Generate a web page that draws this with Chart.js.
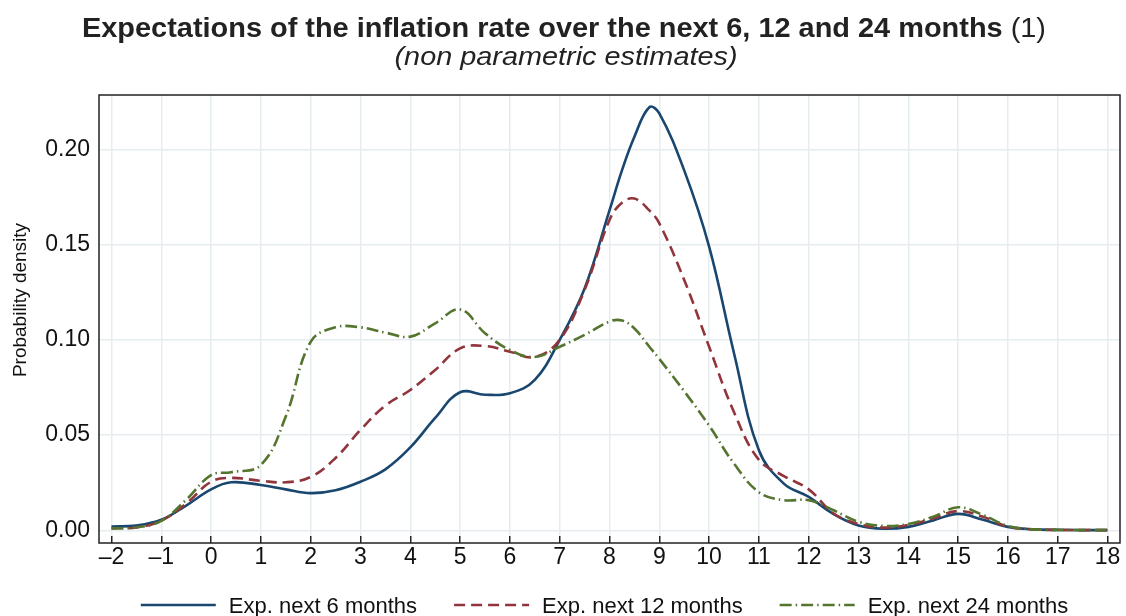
<!DOCTYPE html>
<html>
<head>
<meta charset="utf-8">
<title>Inflation expectations density</title>
<script src="https://cdn.jsdelivr.net/npm/chart.js@4/dist/chart.umd.min.js"></script>
<style>
  html, body { margin: 0; padding: 0; background: #ffffff; }
  #wrap { width: 1126px; height: 616px; position: relative; }
</style>
</head>
<body>
<div id="wrap"><canvas id="chart" width="1126" height="616"></canvas></div>
<script>
// Expected inflation rate (%) at which each density is evaluated
const inflationGrid = [-2, -1.5, -1, -0.5, 0, 0.4, 1, 1.5, 2, 2.5, 3, 3.5, 4, 4.5, 5, 5.5, 6, 6.5, 7, 7.5,
  8, 8.25, 8.5, 8.8, 9, 9.5, 10, 10.5, 11, 11.5, 12, 12.5, 13, 13.5, 14, 14.5, 15, 15.5, 16, 16.5, 17, 17.5, 18];

// Kernel density estimates, one per horizon
const expNext6 = [0.0020, 0.0025, 0.0055, 0.0130, 0.0215, 0.0252, 0.0238, 0.0215, 0.0195, 0.0210, 0.0255, 0.0320,
  0.0435, 0.0590, 0.0725, 0.0712, 0.0720, 0.0790, 0.1000, 0.1270, 0.1680, 0.1890, 0.2067, 0.2222, 0.2190, 0.1890,
  0.1490, 0.0930, 0.0420, 0.0245, 0.0175, 0.0085, 0.0025, 0.0008, 0.0018, 0.0052, 0.0086, 0.0055, 0.0018, 0.0005,
  0.0002, 0.0001, 0.0001];
const expNext12 = [0.0010, 0.0015, 0.0050, 0.0140, 0.0255, 0.0275, 0.0260, 0.0252, 0.0280, 0.0380, 0.0527, 0.0655,
  0.0737, 0.0842, 0.0955, 0.0968, 0.0938, 0.0910, 0.1000, 0.1263, 0.1630, 0.1720, 0.1742, 0.1680, 0.1612, 0.1315,
  0.0964, 0.0620, 0.0370, 0.0285, 0.0215, 0.0088, 0.0033, 0.0014, 0.0028, 0.0063, 0.0101, 0.0071, 0.0019, 0.0005,
  0.0002, 0.0001, 0.0001];
const expNext24 = [0.0010, 0.0015, 0.0050, 0.0160, 0.0290, 0.0305, 0.0343, 0.0597, 0.0990, 0.1066, 0.1066, 0.1038,
  0.1017, 0.1087, 0.1160, 0.1035, 0.0947, 0.0910, 0.0964, 0.1026, 0.1096, 0.1102, 0.1060, 0.0964, 0.0900, 0.0730,
  0.0550, 0.0350, 0.0200, 0.0158, 0.0158, 0.0105, 0.0045, 0.0023, 0.0033, 0.0071, 0.0121, 0.0080, 0.0023, 0.0005,
  0.0002, 0.0001, 0.0001];

const seriesNames = ['Exp. next 6 months', 'Exp. next 12 months', 'Exp. next 24 months'];

const xTickValues = [-2, -1, 0, 1, 2, 3, 4, 5, 6, 7, 8, 9, 10, 11, 12, 13, 14, 15, 16, 17, 18];
const xTickLabels = ['\u20132', '\u20131', '0', '1', '2', '3', '4', '5', '6', '7', '8', '9', '10', '11', '12', '13', '14', '15', '16', '17', '18'];
const yTickValues = [0, 0.05, 0.10, 0.15, 0.20];
const yTickLabels = ['0.00', '0.05', '0.10', '0.15', '0.20'];

const titleMain = 'Expectations of the inflation rate over the next 6, 12 and 24 months';
const titleNote = ' (1)';
const subtitleText = '(non parametric estimates)';
const yAxisTitle = 'Probability density';

const FONT = '"Liberation Sans", Arial, Helvetica, sans-serif';
const GRID = '#e6edf0';
const INK = '#111111';

function points(values) {
  return inflationGrid.map((x, i) => ({ x: x, y: values[i] }));
}

// Frame, titles and the line-sample legend
const decorations = {
  id: 'decorations',
  afterDraw(chart) {
    const ctx = chart.ctx;
    const a = chart.chartArea;
    const xs = chart.scales.x;
    const axisY = a.bottom + xs.options.grid.tickLength;
    ctx.save();

    // plot frame (axis line sits below the inward tick marks)
    ctx.strokeStyle = '#222222';
    ctx.lineWidth = 1.5;
    ctx.beginPath();
    ctx.moveTo(a.left, a.top);
    ctx.lineTo(a.right, a.top);
    ctx.lineTo(a.right, axisY);
    ctx.lineTo(a.left, axisY);
    ctx.closePath();
    ctx.stroke();

    // main title: bold text followed by a regular note marker
    ctx.fillStyle = '#222222';
    ctx.textBaseline = 'alphabetic';
    ctx.textAlign = 'left';
    ctx.font = 'bold 27px ' + FONT;
    const w1 = ctx.measureText(titleMain).width;
    ctx.font = '27px ' + FONT;
    const w2 = ctx.measureText(titleNote).width;
    const titleWidth = 964;
    const sx = titleWidth / (w1 + w2);
    ctx.save();
    ctx.translate(564 - titleWidth / 2, 37);
    ctx.scale(sx, 1);
    ctx.font = 'bold 27px ' + FONT;
    ctx.fillText(titleMain, 0, 0);
    ctx.font = '27px ' + FONT;
    ctx.fillText(titleNote, w1, 0);
    ctx.restore();

    // subtitle
    ctx.font = 'italic 26px ' + FONT;
    const ws = ctx.measureText(subtitleText).width;
    const subWidth = 343;
    ctx.save();
    ctx.translate(566 - subWidth / 2, 65);
    ctx.scale(subWidth / ws, 1);
    ctx.fillText(subtitleText, 0, 0);
    ctx.restore();

    // y-axis title
    ctx.save();
    ctx.translate(20.5, 300);
    ctx.rotate(-Math.PI / 2);
    ctx.textAlign = 'center';
    ctx.textBaseline = 'middle';
    ctx.fillStyle = INK;
    ctx.font = '19px ' + FONT;
    ctx.fillText(yAxisTitle, 0, 0);
    ctx.restore();

    // legend: line sample + label for each series, centred as a group
    const sample = 75, gapText = 13, gapItem = 37, legendY = 605;
    ctx.font = '22px ' + FONT;
    const sets = chart.data.datasets;
    const widths = sets.map(d => ctx.measureText(d.label).width);
    const total = widths.reduce((s, w) => s + w, 0) + sets.length * (sample + gapText) + (sets.length - 1) * gapItem;
    let x = 604.5 - total / 2;
    sets.forEach((d, i) => {
      ctx.save();
      ctx.strokeStyle = d.borderColor;
      ctx.lineWidth = d.borderWidth;
      ctx.setLineDash(d.borderDash || []);
      ctx.beginPath();
      ctx.moveTo(x, legendY);
      ctx.lineTo(x + sample, legendY);
      ctx.stroke();
      ctx.restore();
      x += sample + gapText;
      ctx.fillStyle = INK;
      ctx.textAlign = 'left';
      ctx.textBaseline = 'alphabetic';
      ctx.fillText(d.label, x, 612.5);
      x += widths[i] + gapItem;
    });
    ctx.restore();
  }
};

new Chart(document.getElementById('chart'), {
  type: 'line',
  data: {
    datasets: [
      {
        label: seriesNames[0], data: points(expNext6), order: 2,
        borderColor: '#1a476f', borderWidth: 2.6, borderDash: [],
        pointRadius: 0, fill: false, tension: 0.4
      },
      {
        label: seriesNames[1], data: points(expNext12), order: 1,
        borderColor: '#90353b', borderWidth: 2.6, borderDash: [11, 6],
        pointRadius: 0, fill: false, tension: 0.4
      },
      {
        label: seriesNames[2], data: points(expNext24), order: 0,
        borderColor: '#55752f', borderWidth: 2.6, borderDash: [12, 4, 1.5, 4],
        pointRadius: 0, fill: false, tension: 0.4
      }
    ]
  },
  options: {
    responsive: false,
    devicePixelRatio: 1,
    animation: false,
    events: [],
    layout: { padding: { top: 95, right: 6, left: 0, bottom: 0 } },
    plugins: {
      legend: { display: false },
      title: { display: false },
      tooltip: { enabled: false }
    },
    scales: {
      x: {
        type: 'linear',
        min: -2.25,
        max: 18.25,
        afterBuildTicks: (scale) => { scale.ticks = xTickValues.map(v => ({ value: v })); },
        afterFit: (scale) => { scale.height = 80; },
        grid: { color: GRID, lineWidth: 1.5, drawTicks: true, tickLength: 7, tickColor: '#222222', tickWidth: 1.5 },
        border: { display: false },
        ticks: {
          autoSkip: false, maxRotation: 0, minRotation: 0, padding: 1,
          color: INK, font: { family: FONT, size: 23 },
          callback: (v, i) => xTickLabels[i]
        }
      },
      y: {
        type: 'linear',
        min: -0.003,
        max: 0.2286,
        afterBuildTicks: (scale) => { scale.ticks = yTickValues.map(v => ({ value: v })); },
        afterFit: (scale) => { scale.width = 99; },
        grid: { color: GRID, lineWidth: 1.5, drawTicks: false },
        border: { display: false },
        title: { display: false },
        ticks: {
          padding: 9,
          color: INK, font: { family: FONT, size: 23 },
          callback: (v, i) => yTickLabels[i]
        }
      }
    }
  },
  plugins: [decorations]
});
</script>
</body>
</html>
